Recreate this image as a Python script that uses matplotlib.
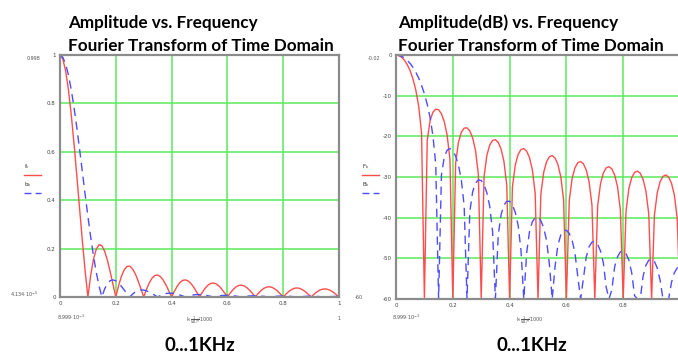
# -*- coding: utf-8 -*-
'''
Amplitude and amplitude(dB) vs. frequency of two time-domain pulses
'''

import numpy as np
import matplotlib.pyplot as plt

# frequency axis, 0...1 (x 1 kHz), 101 samples
freq = np.linspace(0, 1, 101)

# red curve (rectangular pulse), amplitude
amp_red = [
    1.0000, 0.9836, 0.9355, 0.8584, 0.7568, 0.6366, 0.5046, 0.3679, 0.2339, 0.1093,
    0.0000, 0.0894, 0.1559, 0.1981, 0.2162, 0.2122, 0.1892, 0.1515, 0.1039, 0.0518,
    0.0000, 0.0468, 0.0850, 0.1120, 0.1261, 0.1273, 0.1164, 0.0954, 0.0668, 0.0339,
    0.0000, 0.0317, 0.0585, 0.0780, 0.0890, 0.0909, 0.0841, 0.0696, 0.0492, 0.0252,
    0.0000, 0.0240, 0.0445, 0.0599, 0.0688, 0.0707, 0.0658, 0.0548, 0.0390, 0.0201,
    0.0000, 0.0193, 0.0360, 0.0486, 0.0561, 0.0579, 0.0541, 0.0452, 0.0323, 0.0167,
    0.0000, 0.0161, 0.0302, 0.0409, 0.0473, 0.0490, 0.0459, 0.0384, 0.0275, 0.0143,
    0.0000, 0.0139, 0.0260, 0.0353, 0.0409, 0.0424, 0.0398, 0.0334, 0.0240, 0.0125,
    0.0000, 0.0121, 0.0228, 0.0310, 0.0360, 0.0374, 0.0352, 0.0296, 0.0213, 0.0111,
    0.0000, 0.0108, 0.0203, 0.0277, 0.0322, 0.0335, 0.0315, 0.0265, 0.0191, 0.0099,
    0.0000,
]

# blue dashed curve (half-cosine pulse)
amp_blue = [
    1.0000, 0.9907, 0.9631, 0.9184, 0.8584, 0.7854, 0.7023, 0.6123, 0.5186, 0.4246,
    0.3333, 0.2477, 0.1700, 0.1020, 0.0452, 0.0000, 0.0334, 0.0557, 0.0676, 0.0708,
    0.0667, 0.0572, 0.0441, 0.0292, 0.0140, 0.0000, 0.0119, 0.0209, 0.0266, 0.0291,
    0.0286, 0.0254, 0.0202, 0.0138, 0.0068, 0.0000, 0.0061, 0.0109, 0.0143, 0.0159,
    0.0159, 0.0144, 0.0116, 0.0081, 0.0040, 0.0000, 0.0037, 0.0067, 0.0089, 0.0100,
    0.0101, 0.0092, 0.0075, 0.0053, 0.0027, 0.0000, 0.0025, 0.0046, 0.0061, 0.0069,
    0.0070, 0.0064, 0.0053, 0.0037, 0.0019, 0.0000, 0.0018, 0.0033, 0.0044, 0.0050,
    0.0051, 0.0047, 0.0039, 0.0028, 0.0014, 0.0000, 0.0013, 0.0025, 0.0033, 0.0038,
    0.0039, 0.0036, 0.0030, 0.0021, 0.0011, 0.0000, 0.0010, 0.0019, 0.0026, 0.0030,
    0.0031, 0.0029, 0.0024, 0.0017, 0.0009, 0.0000, 0.0008, 0.0016, 0.0021, 0.0024,
    0.0025,
]

amp_ticks = [0, 0.2, 0.4, 0.6, 0.8, 1]
db_ticks = [0, -10, -20, -30, -40, -50, -60]
freq_ticks = [0, 0.2, 0.4, 0.6, 0.8, 1]

RED = '#ff4d4d'
BLUE = '#4d4dff'
GRID = '#5aea5a'
SPINE = '#8c8c8c'


def to_db(a):
    ''' amplitude -> dB, floored at -60 like the plot '''
    return 20*np.log10(np.maximum(np.asarray(a), 1e-3))


def style_axes(ax):
    ''' mathcad-like frame, green grid, tiny tick labels '''
    ax.grid(True, color=GRID, linewidth=1.1)
    ax.set_axisbelow(True)
    for s in ax.spines.values():
        s.set_color(SPINE)
        s.set_linewidth(1.6)
    ax.tick_params(length=0, labelsize=4, colors='#444444', pad=3)


fig = plt.figure(figsize=(6.78, 3.54), dpi=100)

# left panel: linear amplitude
ax1 = fig.add_axes([60/678, 1-297/354, 279/678, 242/354])
ax1.plot(freq, amp_red, color=RED, lw=1.0)
ax1.plot(freq, amp_blue, color=BLUE, lw=1.0, dashes=(6, 4))
ax1.set_xlim(0, 1)
ax1.set_ylim(0, 1)
ax1.set_xticks(freq_ticks)
ax1.set_xticklabels(['0', '0.2', '0.4', '0.6', '0.8', '1'])
ax1.set_yticks(amp_ticks)
ax1.set_yticklabels(['0', '0.2', '0.4', '0.6', '0.8', '1'])
style_axes(ax1)

# right panel: amplitude in dB
ax2 = fig.add_axes([396/678, 1-299/354, 284/678, 244/354])
ax2.plot(freq, to_db(amp_red), color=RED, lw=1.0)
ax2.plot(freq, to_db(amp_blue), color=BLUE, lw=1.0, dashes=(6, 4))
ax2.set_xlim(0, 1)
ax2.set_ylim(-60, 0)
ax2.set_xticks(freq_ticks[:-1])
ax2.set_xticklabels(['0', '0.2', '0.4', '0.6', '0.8'])
ax2.set_yticks(db_ticks)
ax2.set_yticklabels(['0', '-10', '-20', '-30', '-40', '-50', '-60'])
style_axes(ax2)

# titles
title_kw = dict(fontsize=12.3, fontweight='bold', family='Lato', va='baseline')
fig.text(68/678, 1-28/354, 'Amplitude vs. Frequency', **title_kw)
fig.text(68/678, 1-51/354, 'Fourier Transform of Time Domain', **title_kw)
fig.text(398/678, 1-28/354, 'Amplitude(dB) vs. Frequency', **title_kw)
fig.text(398/678, 1-51/354, 'Fourier Transform of Time Domain', **title_kw)

# bottom captions
cap_kw = dict(fontsize=13.5, fontweight='bold', family='Lato', ha='center', va='baseline')
fig.text(200/678, 1-351/354, '0...1KHz', **cap_kw)
fig.text(532/678, 1-351/354, '0...1KHz', **cap_kw)

# mathcad range annotations and axis labels
small = dict(fontsize=3.5, color='#555555')
fig.text(27/678, 1-60/354, '0.998', **small)
fig.text(10/678, 1-297/354, '4.134·10$^{-5}$', **small)
fig.text(57/678, 1-320/354, '8.999·10$^{-3}$', **small)
fig.text(337/678, 1-320/354, '1', **small)
fig.text(368/678, 1-60/354, '-0.02', **small)
fig.text(355/678, 1-299/354, '-60', **small)
fig.text(392/678, 1-320/354, '8.999·10$^{-3}$', **small)
fig.text(200/678, 1-322/354, r'k$\cdot\frac{1}{N\Delta T}$/1000', ha='center', **small)
fig.text(530/678, 1-322/354, r'k$\cdot\frac{1}{N\Delta T}$/1000', ha='center', **small)

# legend-like y labels (name above a line sample)
for x0, names in [(24, ('f$_k$', 'b$_k$')), (362, ('F$_k$', 'B$_k$'))]:
    fig.text(x0/678, 1-168/354, names[0], fontsize=4, color='#333333')
    fig.text(x0/678, 1-186/354, names[1], fontsize=4, color='#333333')
    fig.add_artist(plt.Line2D([x0/678, (x0+17)/678], [1-175/354]*2,
                              color=RED, lw=1.0, transform=fig.transFigure))
    fig.add_artist(plt.Line2D([x0/678, (x0+17)/678], [1-193/354]*2,
                              color=BLUE, lw=1.0, dashes=(5, 3),
                              transform=fig.transFigure))

fig.savefig('out.png', dpi=100)
